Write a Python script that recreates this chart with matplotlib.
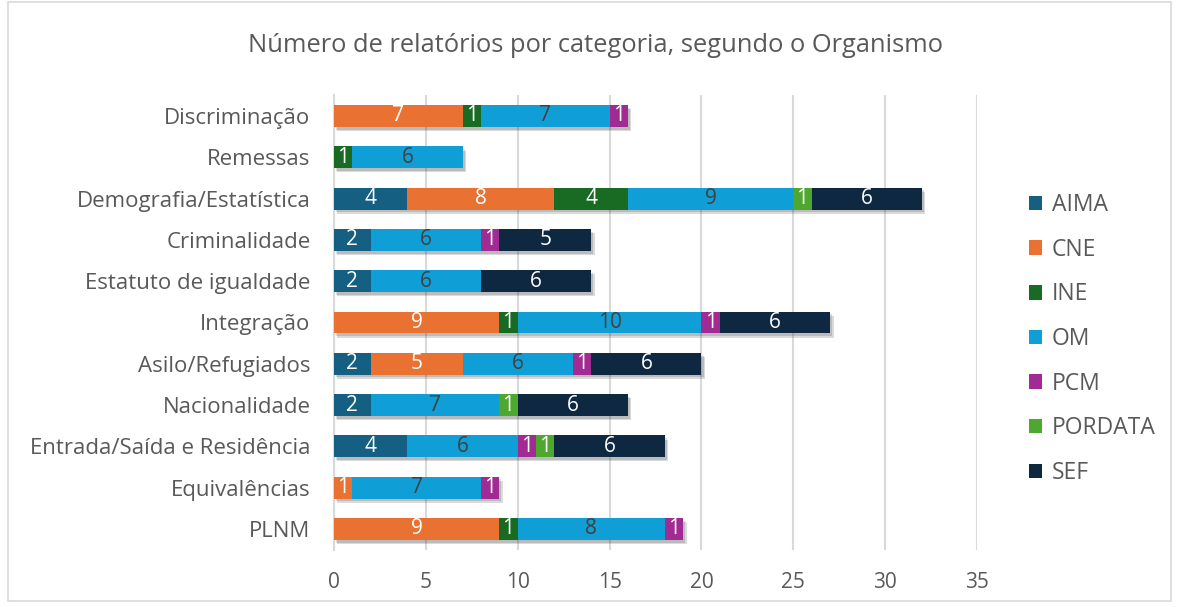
import matplotlib
matplotlib.use("Agg")
import matplotlib.pyplot as plt
from matplotlib import patheffects as pe
from matplotlib.patches import Rectangle
import numpy as np

plt.rcParams['font.family'] = ['Open Sans', 'DejaVu Sans']

categories = ["Discriminação", "Remessas", "Demografia/Estatística", "Criminalidade",
              "Estatuto de igualdade", "Integração", "Asilo/Refugiados", "Nacionalidade",
              "Entrada/Saída e Residência", "Equivalências", "PLNM"]
series = ["AIMA", "CNE", "INE", "OM", "PCM", "PORDATA", "SEF"]
AIMA    = [0, 0, 4, 2, 2, 0, 2, 2, 4, 0, 0]
CNE     = [7, 0, 8, 0, 0, 9, 5, 0, 0, 1, 9]
INE     = [1, 1, 4, 0, 0, 1, 0, 0, 0, 0, 1]
OM      = [7, 6, 9, 6, 6, 10, 6, 7, 6, 7, 8]
PCM     = [1, 0, 0, 1, 0, 1, 1, 0, 1, 1, 1]
PORDATA = [0, 0, 1, 0, 0, 0, 0, 1, 1, 0, 0]
SEF     = [0, 0, 6, 5, 6, 6, 6, 6, 6, 0, 0]
values = [AIMA, CNE, INE, OM, PCM, PORDATA, SEF]
colors = ["#156082", "#E97132", "#196B24", "#0F9ED5", "#A02B93", "#4EA72E", "#0E2841"]
label_colors = ["white", "white", "white", "#404040", "white", "white", "white"]
xticks = [0, 5, 10, 15, 20, 25, 30, 35]

W, H = 1179, 607
fig = plt.figure(figsize=(W / 100, H / 100), dpi=100)
fig.patches.append(Rectangle((8 / W, 6 / H), (W - 16) / W, (H - 8) / H, transform=fig.transFigure,
                             fill=False, edgecolor="#d9d9d9", linewidth=1.2))

ax = fig.add_axes([334 / W, 1 - 549.6 / H, 643 / W, (549.6 - 95.35) / H])
y = np.arange(len(categories))
left = np.zeros(len(categories))
shadow = [pe.SimplePatchShadow(offset=(2.5, -3), alpha=0.18, shadow_rgbFace="#333333"),
          pe.SimplePatchShadow(offset=(1.5, -2), alpha=0.18, shadow_rgbFace="#333333"),
          pe.Normal()]
for s, vals, c, lc in zip(series, values, colors, label_colors):
    v = np.array(vals, dtype=float)
    bars = ax.barh(y, v, left=left, height=0.53, color=c, label=s, zorder=3)
    for b in bars:
        b.set_path_effects(shadow)
    for yi, (vi, li) in enumerate(zip(v, left)):
        if vi > 0:
            ax.text(li + vi / 2, yi, f"{int(vi)}", ha="center", va="center",
                    color=lc, fontsize=15, zorder=5)
    left += v

ax.set_xlim(0, 35)
ax.set_ylim(len(categories) - 0.5, -0.5)
ax.set_xticks(xticks)
ax.set_xticklabels([str(t) for t in xticks])
ax.set_yticks(y)
ax.set_yticklabels(categories)
ax.tick_params(axis="both", length=0, colors="#595959")
ax.tick_params(axis="x", pad=16, labelsize=15)
ax.tick_params(axis="y", pad=17, labelsize=16)
ax.xaxis.grid(True, color="#d9d9d9", linewidth=1.5, zorder=0)
for sp in ["top", "right", "bottom"]:
    ax.spines[sp].set_visible(False)
ax.spines["left"].set_color("#d9d9d9")
ax.spines["left"].set_linewidth(1.5)

fig.text(595 / W, 1 - 45 / H, "Número de relatórios por categoria, segundo o Organismo",
         ha="center", va="center", fontsize=18.4, color="#595959")

handles, labels = ax.get_legend_handles_labels()
leg = fig.legend(handles, labels, loc="center left", bbox_to_anchor=(1008 / W, 1 - 339 / H),
                 frameon=False, fontsize=16.5, labelcolor="#595959", handlelength=0.6,
                 handleheight=0.6, handletextpad=0.4, labelspacing=0.9)
for h in leg.legend_handles:
    h.set_path_effects([])

fig.savefig("out.png", dpi=100)
